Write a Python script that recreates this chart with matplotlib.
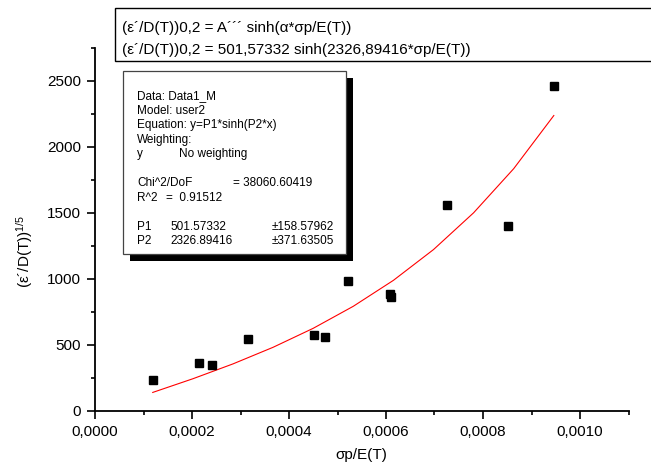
import numpy as np
import matplotlib
matplotlib.use("Agg")
import matplotlib.pyplot as plt
from matplotlib.patches import Rectangle
from matplotlib.ticker import MultipleLocator, FuncFormatter

plt.rcParams['font.family'] = ['Liberation Sans', 'DejaVu Sans']
plt.rcParams['mathtext.fontset'] = 'custom'
plt.rcParams['mathtext.rm'] = 'Liberation Sans'
plt.rcParams['mathtext.it'] = 'Liberation Sans:italic'

# sigma_p / E(T)
stress = [0.000119, 0.000214, 0.000242, 0.000316, 0.000451, 0.000474,
          0.000521, 0.000608, 0.000611, 0.000725, 0.000851, 0.000946]
# (eps'/D(T))^(1/5)
rate = [235, 366, 349, 549, 579, 559, 982, 887, 864, 1558, 1398, 2464]

# fit y = P1*sinh(P2*x)
P1 = 501.57332
P2 = 2326.89416

header_lines = ["(ε´/D(T))0,2 = A´´´ sinh(α*σp/E(T))",
                "(ε´/D(T))0,2 = 501,57332 sinh(2326,89416*σp/E(T))"]

stats_lines = [
    [(0, "Data: Data1_M")],
    [(0, "Model: user2")],
    [(0, "Equation: y=P1*sinh(P2*x)")],
    [(0, "Weighting:")],
    [(0, "y"), (1, "No weighting")],
    [],
    [(0, "Chi^2/DoF"), (2, "= 38060.60419")],
    [(0, "R^2"), (3, "=  0.91512")],
    [],
    [(0, "P1"), (4, "501.57332"), (5, "±158.57962")],
    [(0, "P2"), (4, "2326.89416"), (5, "±371.63505")],
]

W, H = 651, 466
fx = lambda x: x / W
fy = lambda y: 1 - y / H

fig = plt.figure(figsize=(W / 100, H / 100), dpi=100)
ax = fig.add_axes([fx(95), fy(411), fx(628.5) - fx(95), fy(48) - fy(411)])

ax.plot(stress, rate, 's', color='black', markersize=6, zorder=3)

curve_x = np.linspace(min(stress), max(stress), 11)
ax.plot(curve_x, P1 * np.sinh(P2 * curve_x), color='red', lw=0.8, zorder=2)

ax.set_xlim(0, 0.0011)
ax.set_ylim(0, 2750)
ax.xaxis.set_major_locator(MultipleLocator(0.0002))
ax.xaxis.set_minor_locator(MultipleLocator(0.0001))
ax.yaxis.set_major_locator(MultipleLocator(500))
ax.yaxis.set_minor_locator(MultipleLocator(250))
ax.xaxis.set_major_formatter(FuncFormatter(lambda v, _: f"{v:.4f}".replace('.', ',')))

for side in ('top', 'right'):
    ax.spines[side].set_visible(False)
for side in ('left', 'bottom'):
    ax.spines[side].set_linewidth(1.3)
ax.tick_params(which='major', direction='out', length=6, width=1.2, labelsize=11, pad=4)
ax.tick_params(which='minor', direction='out', length=3, width=1.2)

ax.set_xlabel("σp/E(T)", fontsize=11)
ax.xaxis.set_label_coords(0.5, -0.102)
ax.set_ylabel("(ε´/D(T))$^{1/5}$", fontsize=11)
ax.yaxis.set_label_coords(-0.112, 0.44)

# equation header box
fig.patches.append(Rectangle((fx(115), fy(60.7)), 1.0, fy(8.3) - fy(60.7),
                             transform=fig.transFigure, facecolor='white',
                             edgecolor='black', lw=1.0))
for i, line in enumerate(header_lines):
    fig.text(fx(121.7), fy(28.3 + 21.7 * i), line, fontsize=11, va='center', ha='left')

# fit results box with drop shadow
bx0, by0, bx1, by1 = 122.7, 70.7, 345.7, 254.3
fig.patches.append(Rectangle((fx(bx0 + 7), fy(by1 + 7)), fx(bx1 - bx0), fy(by0) - fy(by1),
                             transform=fig.transFigure, facecolor='black', edgecolor='none'))
fig.patches.append(Rectangle((fx(bx0), fy(by1)), fx(bx1 - bx0), fy(by0) - fy(by1),
                             transform=fig.transFigure, facecolor='white',
                             edgecolor='#444444', lw=0.9))
col_x = [137.3, 179.3, 232.7, 166, 170, 271.7]
for row, items in enumerate(stats_lines):
    for col, txt in items:
        fig.text(fx(col_x[col]), fy(96 + 14.5 * row), txt, fontsize=8.5,
                 va='center', ha='left')

fig.savefig("out.png", dpi=100)
